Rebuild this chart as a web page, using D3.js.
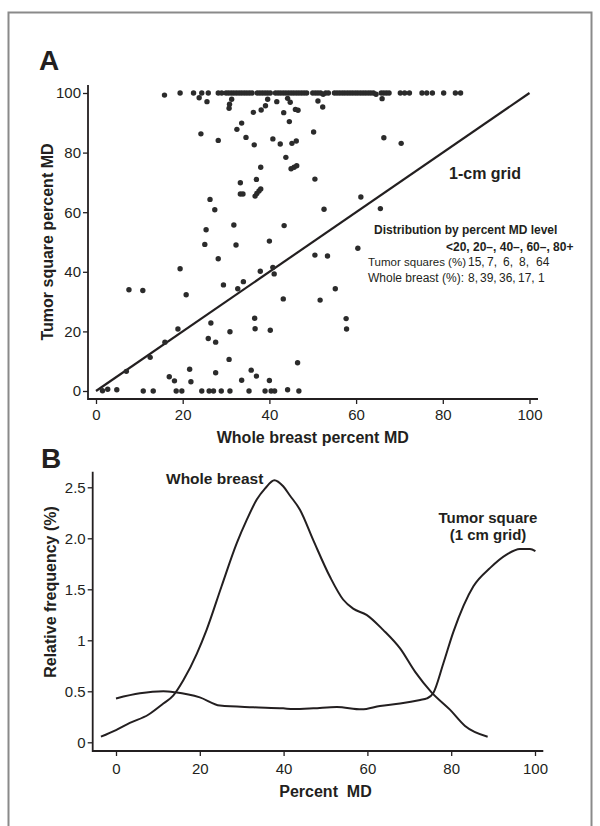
<!DOCTYPE html>
<html>
<head>
<meta charset="utf-8">
<script src="https://cdn.jsdelivr.net/npm/d3@7"></script>
<style>
  html, body { margin: 0; padding: 0; background: #fff; }
  svg { display: block; font-family: "Liberation Sans", Arial, Helvetica, sans-serif; }
</style>
</head>
<body>
<div id="chart"></div>
<script>
// ---- panel A: [whole breast %MD, tumor square %MD] ----
// squares at (or near) 100%
const topRowPoints = [
  [15.8, 99.3], [19.4, 100], [22.5, 100], [24.4, 100], [25.9, 100], [28.2, 100], [29.0, 100],
  [30.0, 100], [30.6, 100], [31.2, 100], [31.8, 100], [32.4, 100], [33.0, 100], [33.6, 100],
  [34.2, 100], [34.8, 100], [35.4, 100], [36.0, 100], [37.2, 100], [37.8, 100], [38.4, 100],
  [39.0, 100], [39.6, 100], [40.2, 100], [41.4, 100], [42.0, 100], [42.6, 100], [43.2, 100],
  [43.8, 100], [44.4, 100], [45.0, 100], [45.6, 100], [46.2, 100], [46.8, 100], [47.4, 100],
  [48.0, 100], [48.6, 100], [50.0, 100], [50.6, 100], [51.2, 100], [51.8, 100], [52.4, 99.6],
  [53.0, 100], [53.6, 100], [55.0, 100], [55.6, 100], [56.2, 100], [56.8, 100], [57.4, 100],
  [58.0, 100], [58.6, 100], [59.2, 100], [59.8, 100], [60.4, 100], [61.0, 100], [61.6, 100],
  [62.2, 100], [62.8, 100], [63.4, 100], [64.0, 100], [64.6, 99.6], [65.8, 100], [66.4, 100],
  [67.0, 100], [67.6, 100], [70.2, 100], [71.2, 100], [72.3, 100], [75.2, 100], [76.3, 100],
  [77.6, 100], [80.2, 100], [82.9, 100], [84.1, 100]
]
// all other squares
const otherPoints = [
  [23.8, 98.4], [25.6, 97.1], [31.3, 97.9], [30.8, 96.2], [30.7, 94.9], [36.3, 93.5], [38.1, 94.3],
  [39.1, 95.7], [39.6, 97.9], [41.7, 97.1], [43.3, 93.4], [44.2, 98.2], [44.8, 96.9], [44.6, 90.4],
  [46.0, 94.5], [46.6, 94.2], [51.2, 97.3], [52.3, 95.3], [66.0, 98.1],
  [24.2, 86.3], [28.2, 84.1], [33.6, 89.9], [32.5, 87.8], [34.6, 85.1], [36.5, 82.6], [40.8, 84.6],
  [42.5, 82.9], [45.2, 83.1], [46.2, 83.9], [50.2, 86.9], [66.4, 85.0], [70.4, 83.1], [43.8, 78.4],
  [38.0, 75.1], [45.0, 74.6], [45.7, 75.1], [46.3, 75.6], [50.5, 71.1], [33.3, 69.9], [37.0, 71.0],
  [33.3, 66.1], [33.9, 66.1], [36.7, 65.4], [37.1, 66.3], [37.6, 67.1], [38.0, 67.8], [26.3, 64.3],
  [27.4, 60.8], [52.6, 61.0], [61.1, 65.1], [65.6, 61.2], [25.4, 54.1], [31.8, 55.7], [43.4, 55.5],
  [25.1, 49.2], [32.3, 49.0], [40.0, 50.3], [28.2, 44.4], [19.4, 41.0], [37.9, 40.2], [40.8, 41.5],
  [41.1, 39.3], [34.0, 36.7], [29.4, 35.6], [32.7, 34.3], [7.6, 34.0], [10.8, 33.7], [20.8, 32.3],
  [43.2, 30.9], [50.5, 45.6], [53.4, 45.3], [60.4, 47.9], [55.2, 34.3], [51.7, 30.5], [57.7, 24.3],
  [57.8, 20.8], [26.5, 22.8], [36.6, 24.4], [36.7, 20.9], [18.9, 20.8], [40.2, 20.4], [30.9, 19.9],
  [25.9, 17.6], [27.6, 16.4], [15.9, 16.4], [12.5, 11.3], [30.7, 10.6], [46.5, 9.5], [7.0, 6.6],
  [21.6, 7.3], [35.8, 7.0], [27.6, 6.1], [16.9, 4.8], [37.0, 5.0], [21.9, 3.1], [18.1, 3.4],
  [33.6, 3.6], [40.0, 3.5],
  [1.5, 0.1], [2.7, 0.6], [4.8, 0.4], [10.9, 0], [13.2, 0], [18.5, 0], [19.8, 0], [24.4, 0],
  [26.1, 0], [27.1, 0], [28.9, 0], [30.9, 0], [35.3, 0], [39.0, 0], [40.4, 0], [41.2, 0],
  [44.2, 0.4], [46.8, 0]
]
const identityLine = [0, 100]
const ticksA = [0, 20, 40, 60, 80, 100]

const distHeader = 'Distribution by percent MD level'
const distLevels = '<20, 20\u2013, 40\u2013, 60\u2013, 80+'
const tumorSquareDist = [15, 7, 6, 8, 64]
const wholeBreastDist = [8, 39, 36, 17, 1]

// ---- panel B: relative frequency curves ----
const wbCurveX = [-3.6, 0, 3.3, 7.7, 11.3, 13.7, 16.1, 19.3, 21.6, 25.2, 28.8, 31.2, 33.6, 35.6, 37.8,
  39.9, 41.5, 43.9, 47.1, 51.1, 54.2, 56.6, 59.8, 63.8, 67.8, 71.4, 75.3, 79.7, 83.3, 88.7]
const wbCurveY = [0.055, 0.12, 0.19, 0.27, 0.38, 0.46, 0.61, 0.87, 1.10, 1.53, 1.95, 2.18, 2.38, 2.49, 2.57,
  2.51, 2.42, 2.28, 1.98, 1.62, 1.40, 1.31, 1.25, 1.10, 0.92, 0.69, 0.49, 0.32, 0.16, 0.055]
const tsCurveX = [0, 5.7, 11.3, 14.1, 20, 24.8, 32.8, 39.9, 42.3, 47.1, 52.7, 58.6, 63, 67.8, 72.6,
  74.2, 75.7, 78.1, 80.5, 85.3, 89.3, 93.2, 96.4, 98.8, 100.1]
const tsCurveY = [0.43, 0.48, 0.50, 0.49, 0.44, 0.36, 0.343, 0.333, 0.326, 0.333, 0.346, 0.323, 0.356, 0.38, 0.415,
  0.43, 0.48, 0.77, 1.08, 1.53, 1.71, 1.84, 1.895, 1.895, 1.875]
const ticksBx = [0, 20, 40, 60, 80, 100]
const ticksBy = [0, 0.5, 1, 1.5, 2, 2.5]
const ticksByLabels = ['0', '0.5', '1', '1.5', '2.0', '2.5']

const ink = '#231f20'
const W = 600, H = 826

const svg = d3.select('#chart').append('svg')
  .attr('width', W).attr('height', H)

svg.append('rect').attr('width', W).attr('height', H).attr('fill', '#fff')
svg.append('rect')
  .attr('x', 8.5).attr('y', 12.5).attr('width', 583).attr('height', 840)
  .attr('fill', 'none').attr('stroke', '#8a8a8a').attr('stroke-width', 2)

function styleAxis(g, fs) {
  g.select('.domain').remove()
  g.selectAll('line').attr('stroke', ink).attr('stroke-width', 1.3)
  g.selectAll('text').attr('fill', ink).attr('font-size', fs).attr('font-family', null)
}

// ================= Panel A =================
const xA = d3.scaleLinear().domain([0, 100]).range([96, 529.5])
const yA = d3.scaleLinear().domain([0, 100]).range([391, 93])

svg.append('text').text('A')
  .attr('x', 39).attr('y', 70)
  .attr('font-size', 28).attr('font-weight', 'bold').attr('fill', ink)

svg.append('g')
  .attr('transform', 'translate(88,0)')
  .call(d3.axisLeft(yA).tickValues(ticksA).tickSize(5).tickPadding(2))
  .call(g => styleAxis(g, 15))

svg.append('g')
  .attr('transform', 'translate(0,399)')
  .call(d3.axisBottom(xA).tickValues(ticksA).tickSize(5).tickPadding(5))
  .call(g => styleAxis(g, 15))

svg.append('path')
  .attr('d', 'M88,85V399H538')
  .attr('fill', 'none').attr('stroke', ink).attr('stroke-width', 1.8)

svg.append('line')
  .attr('x1', xA(identityLine[0])).attr('y1', yA(identityLine[0]))
  .attr('x2', xA(identityLine[1])).attr('y2', yA(identityLine[1]))
  .attr('stroke', ink).attr('stroke-width', 2.2)

svg.append('g').selectAll('circle')
  .data(topRowPoints.concat(otherPoints))
  .join('circle')
  .attr('cx', d => xA(d[0]))
  .attr('cy', d => yA(d[1]))
  .attr('r', 2.7)
  .attr('fill', '#2b2b2b')

svg.append('text').text('Whole breast percent MD')
  .attr('x', xA(50)).attr('y', 443)
  .attr('text-anchor', 'middle')
  .attr('font-size', 16).attr('font-weight', 'bold').attr('fill', ink)

svg.append('text').text('Tumor square percent MD')
  .attr('transform', `translate(53,${yA(50)}) rotate(-90)`)
  .attr('text-anchor', 'middle')
  .attr('font-size', 16).attr('font-weight', 'bold').attr('fill', ink)

svg.append('text').text('1-cm grid')
  .attr('x', 449).attr('y', 179)
  .attr('font-size', 16).attr('font-weight', 'bold').attr('fill', ink)

svg.append('text').text(distHeader)
  .attr('x', 374).attr('y', 234)
  .attr('font-size', 12).attr('font-weight', 'bold').attr('fill', ink)

svg.append('text').text(distLevels)
  .attr('x', 446).attr('y', 251)
  .attr('font-size', 12).attr('font-weight', 'bold').attr('fill', ink)

const distCols = [468, 487, 503, 519, 536]
const distColsWB = [468, 480, 499, 518, 538]
svg.append('text').text('Tumor squares (%)')
  .attr('x', 368).attr('y', 266)
  .attr('font-size', 11.5).attr('fill', ink)
svg.append('g').selectAll('text')
  .data(tumorSquareDist)
  .join('text')
  .text((d, i) => i < tumorSquareDist.length - 1 ? d + ',' : d)
  .attr('x', (d, i) => distCols[i]).attr('y', 266)
  .attr('font-size', 12).attr('fill', ink)

svg.append('text').text('Whole breast (%):')
  .attr('x', 368).attr('y', 282)
  .attr('font-size', 12).attr('fill', ink)
svg.append('g').selectAll('text')
  .data(wholeBreastDist)
  .join('text')
  .text((d, i) => i < wholeBreastDist.length - 1 ? d + ',' : d)
  .attr('x', (d, i) => distColsWB[i]).attr('y', 282)
  .attr('font-size', 12).attr('fill', ink)

// ================= Panel B =================
const xB = d3.scaleLinear().domain([0, 100]).range([116, 535])
const yB = d3.scaleLinear().domain([0, 2.5]).range([742.3, 487.3])

svg.append('text').text('B')
  .attr('x', 41).attr('y', 468)
  .attr('font-size', 28).attr('font-weight', 'bold').attr('fill', ink)

svg.append('g')
  .attr('transform', 'translate(92.7,0)')
  .call(d3.axisLeft(yB).tickValues(ticksBy).tickSize(5).tickPadding(2)
    .tickFormat((d, i) => ticksByLabels[i]))
  .call(g => styleAxis(g, 15))

svg.append('g')
  .attr('transform', 'translate(0,751)')
  .call(d3.axisBottom(xB).tickValues(ticksBx).tickSize(5).tickPadding(7))
  .call(g => styleAxis(g, 15))

svg.append('path')
  .attr('d', 'M92.7,471.7V751H543.3')
  .attr('fill', 'none').attr('stroke', ink).attr('stroke-width', 1.8)

const lineB = d3.line()
  .x(d => xB(d[0]))
  .y(d => yB(d[1]))
  .curve(d3.curveMonotoneX)

svg.append('path')
  .attr('d', lineB(wbCurveX.map((x, i) => [x, wbCurveY[i]])))
  .attr('fill', 'none').attr('stroke', ink).attr('stroke-width', 2)

svg.append('path')
  .attr('d', lineB(tsCurveX.map((x, i) => [x, tsCurveY[i]])))
  .attr('fill', 'none').attr('stroke', ink).attr('stroke-width', 2)

svg.append('text').text('Whole breast')
  .attr('x', 166).attr('y', 484)
  .attr('font-size', 15.5).attr('font-weight', 'bold').attr('fill', ink)

svg.append('text').text('Tumor square')
  .attr('x', 488).attr('y', 523)
  .attr('text-anchor', 'middle')
  .attr('font-size', 15).attr('font-weight', 'bold').attr('fill', ink)
svg.append('text').text('(1 cm grid)')
  .attr('x', 488).attr('y', 540)
  .attr('text-anchor', 'middle')
  .attr('font-size', 15).attr('font-weight', 'bold').attr('fill', ink)

svg.append('text').text('Percent\u00a0\u00a0MD')
  .attr('x', xB(50)).attr('y', 797)
  .attr('text-anchor', 'middle')
  .attr('font-size', 16).attr('font-weight', 'bold').attr('fill', ink)

svg.append('text').text('Relative frequency (%)')
  .attr('transform', 'translate(56,592) rotate(-90)')
  .attr('text-anchor', 'middle')
  .attr('font-size', 16).attr('font-weight', 'bold').attr('fill', ink)
</script>
</body>
</html>
